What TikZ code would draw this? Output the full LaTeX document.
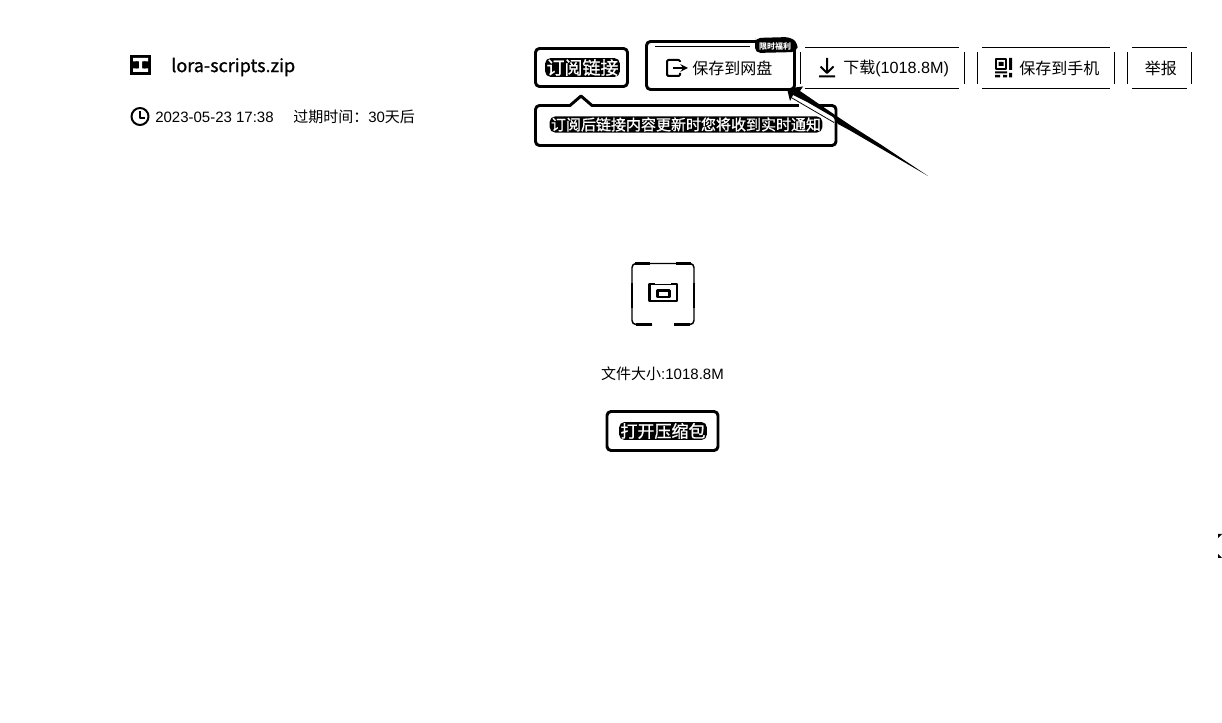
\documentclass[tikz,border=0pt]{standalone}
\usepackage{fontspec}
\setmainfont{Liberation Sans}
\newfontfamily\cjk{Noto Sans CJK SC}
\newfontfamily\cjkm[FakeBold=1]{Noto Sans CJK SC}
\newcommand{\pxs}[1]{\fontsize{\dimexpr#1pt*3/4\relax}{\dimexpr#1pt*3/4\relax}\selectfont}
\tikzset{
 lbl/.style={inner sep=0pt,anchor=west,text=black},
 hot/.style={draw=black,line width=2.2pt,rounded corners=3pt,fill=white,line join=round},
 rule/.style={draw=black,line width=0.75pt},
 knocktext/.style={fill=black,text=white,rounded corners=4pt,inner xsep=1pt,inner ysep=0.8pt,font=\cjkm}
}
\begin{document}
\begin{tikzpicture}[x=0.75pt,y=-0.75pt,line join=round]
\useasboundingbox (0,0) rectangle (1222,723);
% file icon
\fill[black] (130,55) rectangle (151,75);
\fill[white] (133,58) rectangle (148,61.5) (133,68.5) rectangle (148,72) (139,60) rectangle (142,70);
\fill[black] (135.5,61.5) rectangle (137.5,63) (143.5,61.5) rectangle (145.5,63) (135.5,67) rectangle (137.5,68.5) (143.5,67) rectangle (145.5,68.5);
\node[lbl] (name) at (171,67) {{\cjkm\pxs{18}lora-scripts.zip}};
% clock
\draw[line width=1.5pt] (140,116.5) circle (8.5);
\draw[line width=1.3pt] (140,111) -- (140,118) -- (145,118);
\node[lbl] (date) at (155,117) {\pxs{15}2023-05-23 17:38};
\node[lbl] (exp) at (293,117) {{\cjk\pxs{15}过期时间：}\pxs{15}30{\cjk\pxs{15}天后}};
% subscribe
\node[hot,minimum width=92pt*0.75,minimum height=38pt*0.75,inner sep=0pt] (sub) at (581.5,67.5) {};
\node[knocktext] (subt) at (582.5,67.5) {\pxs{18}订阅链接};
% tooltip
\draw[hot] (560,105.5) [sharp corners] -- (570,105.5) -- (581,96) -- (592,105.5) [rounded corners=3pt] -- (836,105.5) -- (836,145.5) -- (535.5,145.5) -- (535.5,105.5) -- cycle;
\node[knocktext] (tip) at (686,124.5) {\pxs{15}订阅后链接内容更新时您将收到实时通知};
% save button
\node[hot,minimum width=148pt*0.75,minimum height=48pt*0.75,inner sep=0pt] (save) at (720.5,65.5) {};
\draw[rule] (655,47) -- (750,47);
\draw[line width=1.5pt,rounded corners=1pt] (680,62) -- (680,60) -- (667,60) -- (667,76) -- (680,76) -- (680,73);
\draw[line width=1.5pt,-stealth] (673,68) -- (688,68);
\node[lbl] (savet) at (692,68.5) {{\cjk\pxs{16}保存到网盘}};
\fill[black,rounded corners=4pt] (755,43) -- (755,38) -- (790,37) -- (798,43) -- (797,52) -- (755,53) -- cycle;
\node[text=white,inner sep=0pt] (badge) at (775,46) {{\cjk\pxs{8}\bfseries 限时福利}};
% download
\draw[rule] (805,47.5) -- (959,47.5) (805,88.5) -- (959,88.5) (800.5,52) -- (800.5,84) (964.5,52) -- (964.5,84);
\draw[line width=1.5pt] (827,58) -- (827,72) (820.5,66.5) -- (827,73) -- (833.5,66.5) (819,76.5) -- (835,76.5);
\node[lbl] (dl) at (843,68.5) {{\cjk\pxs{16}下载}\pxs{16.2}(1018.8M)};
% phone
\draw[rule] (982,47.5) -- (1110,47.5) (982,88.5) -- (1110,88.5) (977.5,52) -- (977.5,84) (1114.5,52) -- (1114.5,84);
\draw[line width=1.3pt] (996,59) rectangle (1006,69);
\fill[black] (998.5,62) rectangle (1003.5,66) (995,71.5) rectangle (1007,73.5) (995,75) rectangle (1000,77.5) (1003,75) rectangle (1007,77.5) (1009,58) rectangle (1012,70) (1009,73) rectangle (1012,77.5);
\node[lbl] (ph) at (1019,68.5) {{\cjk\pxs{16}保存到手机}};
% report
\draw[rule] (1132,47.5) -- (1187,47.5) (1132,88.5) -- (1187,88.5) (1127.5,52) -- (1127.5,84) (1191.5,52) -- (1191.5,84);
\node[lbl] (rep) at (1144.5,68.5) {{\cjk\pxs{16}举报}};
% arrow
\coordinate (atail) at (928,176);
\coordinate (atip) at (787,88.5);
\fill[white] (799,103.5) rectangle (817,108);
\fill[black] (atail) -- (880,144) -- (850,125) -- (838,117) -- (800,91) -- (803,86.5) -- (atip) -- (790,101) -- (793,95) -- (808,102.5) -- (833,117) -- (838,124) -- (850,130.5) -- cycle;
\draw[line width=0.6pt] (792,98) -- (834,122.5);
% big icon
\draw[line width=1.1pt,rounded corners=3pt] (652,324.5) -- (632,324.5) -- (632,263.5) -- (694,263.5) -- (694,324.5) -- (674,324.5);
\draw[line width=1.6pt] (632,283) -- (632,308) (694,283) -- (694,308) (635,263.5) -- (650,263.5) (676,263.5) -- (691,263.5) (636,324.5) -- (652,324.5) (674,324.5) -- (690,324.5);
\draw[line width=1.8pt] (655,284) -- (649.5,284) -- (649.5,301) -- (677,301) -- (677,284) -- (671,284);
\draw[line width=0.7pt] (655,284) -- (671,284);
\draw[line width=1.7pt] (657.5,290.5) rectangle (669.5,297);
\node[inner sep=0pt] (size) at (662.5,374) {{\cjk\pxs{15}文件大小}\pxs{15}:1018.8M};
% open
\node[hot,minimum width=111pt*0.75,minimum height=39pt*0.75,inner sep=0pt] (open) at (662.5,431) {};
\node[knocktext] (opent) at (663,431) {\pxs{17}打开压缩包};
% edge marks
\fill[black] (1218,534) -- (1222,534) -- (1218,538) -- cycle (1218,554) -- (1222,558) -- (1218,558) -- cycle;
\end{tikzpicture}
\end{document}
